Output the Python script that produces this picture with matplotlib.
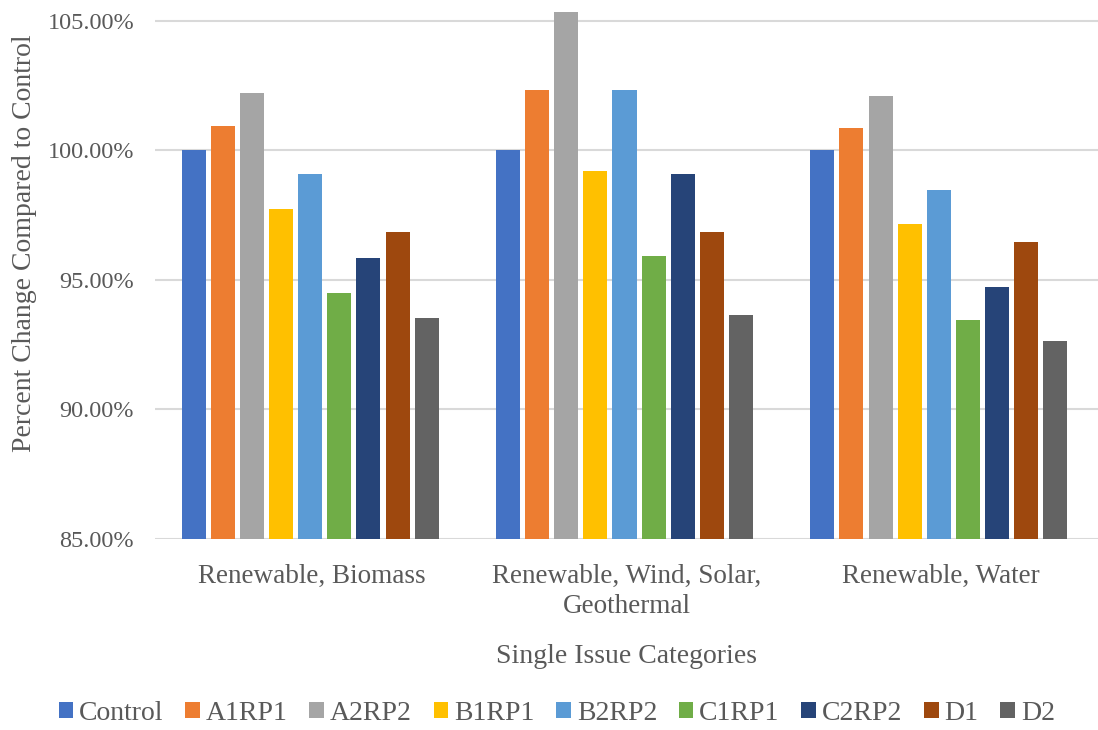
import matplotlib
matplotlib.use("Agg")
import matplotlib.pyplot as plt
import numpy as np
from matplotlib.ticker import FuncFormatter
from matplotlib.patches import Patch

categories = ["Renewable, Biomass", "Renewable, Wind, Solar,\nGeothermal", "Renewable, Water"]
series_names = ["Control", "A1RP1", "A2RP2", "B1RP1", "B2RP2", "C1RP1", "C2RP2", "D1", "D2"]
control = [100.00, 100.00, 100.00]
a1rp1 = [100.95, 102.33, 100.88]
a2rp2 = [102.21, 105.36, 102.11]
b1rp1 = [97.75, 99.20, 97.17]
b2rp2 = [99.08, 102.33, 98.48]
c1rp1 = [94.48, 95.94, 93.44]
c2rp2 = [95.84, 99.10, 94.71]
d1 = [96.86, 96.86, 96.47]
d2 = [93.54, 93.66, 92.63]
values = [control, a1rp1, a2rp2, b1rp1, b2rp2, c1rp1, c2rp2, d1, d2]
colors = ["#4472C4", "#ED7D31", "#A5A5A5", "#FFC000", "#5B9BD5",
          "#70AD47", "#264478", "#9E480E", "#636363"]
yticks = [85, 90, 95, 100, 105]

plt.rcParams['font.family'] = ['Liberation Serif', 'DejaVu Serif']
text_color = "#595959"

fig = plt.figure(figsize=(10.98, 7.30), dpi=100)
ax = fig.add_axes([155/1098, (730-538.7)/730, 1-155/1098, 538.7/730])

x = np.arange(len(categories))
slot = 29.1/314
bw = 24/314
n = len(series_names)
for i, (name, vals, c) in enumerate(zip(series_names, values, colors)):
    off = (i - (n-1)/2) * slot - 2/314
    ax.bar(x + off, np.array(vals) - 85, bottom=85, width=bw, color=c, label=name, zorder=3)

ax.set_xlim(-0.5, 2.5)
ax.set_ylim(85, 105.81)
ax.set_yticks(yticks)
ax.yaxis.set_major_formatter(FuncFormatter(lambda v, p: f"{v:.2f}%"))
ax.grid(axis='y', color='#D9D9D9', linewidth=1.5, zorder=0)
for s in ax.spines.values():
    s.set_visible(False)
ax.tick_params(axis='both', length=0, colors=text_color)
ax.tick_params(axis='y', pad=15, labelsize=17.5)
ax.tick_params(axis='x', pad=18, labelsize=19.5)
ax.set_xticks(x)
ax.set_xticklabels(categories, linespacing=1.3)

fig.text(25/1098, 1 - 243/730, "Percent Change Compared to Control", rotation=90,
         ha='center', va='center', fontsize=20, color=text_color)
ax.set_xlabel("Single Issue Categories", fontsize=20, color=text_color, labelpad=18)

handles = [Patch(facecolor=c, label=nm) for nm, c in zip(series_names, colors)]
leg = fig.legend(handles=handles, loc='center', bbox_to_anchor=(0.507, 0.023), ncol=9,
                 frameon=False, fontsize=20, handlelength=0.53, handleheight=0.53,
                 handletextpad=0.21, columnspacing=0.78)
for t in leg.get_texts():
    t.set_color(text_color)

fig.savefig("out.png", dpi=100)
